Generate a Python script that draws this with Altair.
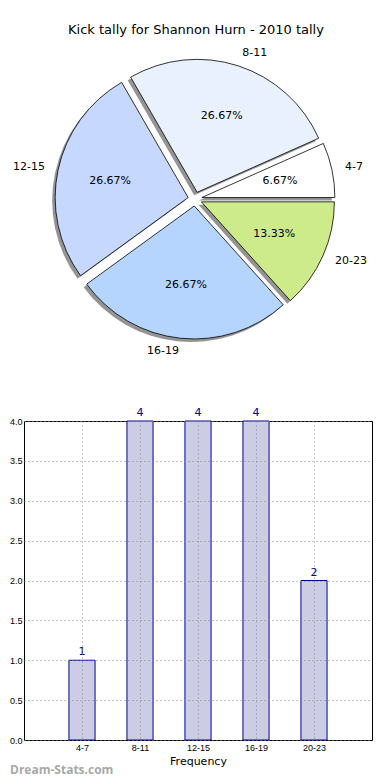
import json
import altair as alt
import pandas as pd

# ---- data ----
title_text = "Kick tally for Shannon Hurn - 2010 tally"
categories = ["4-7", "8-11", "12-15", "16-19", "20-23"]
counts = [1, 4, 4, 4, 2]
slice_colors = ["#FFFFFF", "#EAF1FE", "#C6D8FE", "#B5D5FE", "#CEEB8B"]
y_tick_values = [0.0, 0.5, 1.0, 1.5, 2.0, 2.5, 3.0, 3.5, 4.0]
x_axis_title = "Frequency"
watermark = "Dream-Stats.com"

df = pd.DataFrame({
    "cat": categories,
    "count": counts,
    "order": list(range(len(categories))),
    "color": slice_colors,
})

FONT = "DejaVu Sans"
AXFONT = "Liberation Sans"
PIE_W, PIE_H = 348, 380
CX, CY, R, EXPL = 171, 191, 133, 7

base = (
    alt.Chart(df)
    .transform_window(cum="sum(count)", sort=[alt.SortField("order")], frame=[None, 0])
    .transform_joinaggregate(total="sum(count)")
    .transform_calculate(
        a0="2*PI*(datum.cum - datum.count)/datum.total",
        a1="2*PI*datum.cum/datum.total",
    )
    .transform_calculate(
        mid="(datum.a0 + datum.a1)/2",
        th="5*PI/2 - datum.a1",
        th2="5*PI/2 - datum.a0",
        pct="format(100*datum.count/datum.total, '.2f') + '%'",
    )
    .transform_calculate(
        px=f"{CX} + {EXPL}*cos(datum.mid)",
        py=f"{CY} - {EXPL}*sin(datum.mid)",
        lx=f"{CX} + ({EXPL} + 1.1*{R})*cos(datum.mid)",
        ly=f"{CY} - ({EXPL} + 1.1*{R})*sin(datum.mid)",
        tx=f"{CX} + ({EXPL} + 0.6*{R})*cos(datum.mid)",
        ty=f"{CY} - ({EXPL} + 0.6*{R})*sin(datum.mid)",
    )
    .transform_calculate(sx="datum.px - 3", sy="datum.py + 3")
)

shadow = base.mark_arc(outerRadius=R, fill="#4d4d4d", opacity=0.6).encode(
    theta=alt.Theta("th:Q", scale=None, stack=None),
    theta2="th2:Q",
    x=alt.X("sx:Q", scale=None, axis=None),
    y=alt.Y("sy:Q", scale=None, axis=None),
)

slices = base.mark_arc(outerRadius=R, stroke="black", strokeWidth=0.8).encode(
    theta=alt.Theta("th:Q", scale=None, stack=None),
    theta2="th2:Q",
    x=alt.X("px:Q", scale=None, axis=None),
    y=alt.Y("py:Q", scale=None, axis=None),
    fill=alt.Fill("color:N", scale=None, legend=None),
)

pct_text = base.mark_text(font=FONT, fontSize=11, color="black").encode(
    x=alt.X("tx:Q", scale=None, axis=None),
    y=alt.Y("ty:Q", scale=None, axis=None),
    text="pct:N",
)

lab_right = base.transform_filter("cos(datum.mid) >= 0").mark_text(
    font=FONT, fontSize=11, color="black", align="left", baseline="middle"
).encode(
    x=alt.X("lx:Q", scale=None, axis=None),
    y=alt.Y("ly:Q", scale=None, axis=None),
    text="cat:N",
)
lab_left = base.transform_filter("cos(datum.mid) < 0").mark_text(
    font=FONT, fontSize=11, color="black", align="right", baseline="middle"
).encode(
    x=alt.X("lx:Q", scale=None, axis=None),
    y=alt.Y("ly:Q", scale=None, axis=None),
    text="cat:N",
)

title_mark = alt.Chart(pd.DataFrame({"t": [title_text]})).mark_text(
    font=FONT, fontSize=13, color="black", align="center", baseline="middle"
).encode(x=alt.value(CX + 1), y=alt.value(22), text="t:N")

pie = alt.layer(shadow, slices, pct_text, lab_right, lab_left, title_mark).properties(
    width=PIE_W, height=PIE_H, view=alt.ViewBackground(stroke=None)
)

# ---- bar chart ----
label_expr = f"{json.dumps(categories)}[datum.value - 1]"
bar_base = alt.Chart(df).transform_calculate(
    pos="datum.order + 1",
    lo="datum.order + 1 - 0.225",
    hi="datum.order + 1 + 0.225",
)

x_scale = alt.Scale(domain=[0, 6], nice=False, zero=False)
y_scale = alt.Scale(domain=[0, 4], nice=False)

x_axis = alt.Axis(
    values=[1, 2, 3, 4, 5],
    labelExpr=label_expr,
    title=x_axis_title,
    titleFont=FONT,
    titleFontSize=11,
    titleFontWeight="normal",
    titleColor="black",
    titlePadding=3,
    labelFont=AXFONT,
    labelFontSize=9,
    labelColor="black",
    labelPadding=3,
    ticks=False,
    domain=False,
    grid=True,
    gridDash=[1, 3],
    gridColor="#888888",
    gridWidth=1,
    zindex=1,
)
y_axis = alt.Axis(
    values=y_tick_values,
    format=".1f",
    title=None,
    labelFont=AXFONT,
    labelFontSize=9,
    labelColor="black",
    labelPadding=2,
    labelOverlap=False,
    ticks=False,
    domain=False,
    grid=True,
    gridDash=[1, 3],
    gridColor="#888888",
    gridWidth=1,
    zindex=1,
)

bars = bar_base.mark_rect(fill="#CCCCE5", stroke="#000099", strokeWidth=1).encode(
    x=alt.X("lo:Q", scale=x_scale, axis=x_axis),
    x2="hi:Q",
    y=alt.Y("count:Q", scale=y_scale, axis=y_axis),
    y2=alt.datum(0),
)

values = bar_base.mark_text(
    font=FONT, fontSize=11, color="#000099", baseline="bottom", dy=-3
).encode(
    x=alt.X("pos:Q", scale=x_scale, axis=x_axis),
    y=alt.Y("count:Q", scale=y_scale, axis=y_axis),
    text="count:Q",
)

wm = alt.Chart(pd.DataFrame({"t": [watermark]})).mark_text(
    font="Open Sans", fontSize=12, fontWeight="bold", color="#A8A8A8",
    align="left", baseline="middle",
).encode(x=alt.value(-14), y=alt.value(349), text="t:N")

bar_chart = alt.layer(bars, values, wm).properties(
    width=348, height=319,
    view=alt.ViewBackground(stroke="black", strokeWidth=1),
)

chart = alt.vconcat(pie, bar_chart, spacing=33, bounds="flush").properties(
    padding=0
).configure_view(strokeWidth=1)

chart.save("out.html", embed_options={"renderer": "svg", "actions": False})
